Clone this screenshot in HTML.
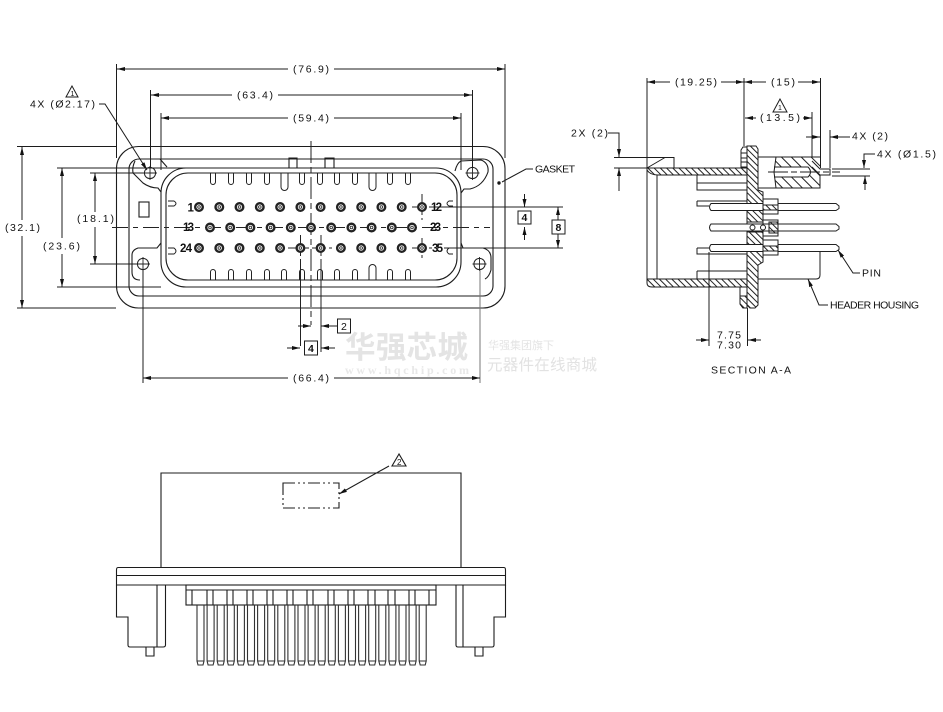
<!DOCTYPE html>
<html><head><meta charset="utf-8"><style>
html,body{margin:0;padding:0;background:#fff}
svg{display:block}
text{font-family:"Liberation Sans","Noto Sans CJK SC",sans-serif;fill:#111}
.t{font-size:10.500px;dominant-baseline:middle}
.p{font-size:11.500px;font-weight:bold;dominant-baseline:middle}
</style></head><body>
<svg width="943" height="712" viewBox="0 0 943 712" xmlns="http://www.w3.org/2000/svg">
<defs>
<marker id="a" viewBox="0 0 8 6" refX="8" refY="3" markerWidth="8" markerHeight="6" markerUnits="userSpaceOnUse" orient="auto-start-reverse"><path d="M0,1 L8,3 L0,5Z" fill="#111"/></marker>
<pattern id="h" width="4.400" height="4.400" patternUnits="userSpaceOnUse" patternTransform="rotate(-45)"><rect width="4.400" height="4.400" fill="#fff"/><rect width="1" height="4.400" fill="#222"/></pattern>
<pattern id="h2" width="7" height="7" patternUnits="userSpaceOnUse" patternTransform="rotate(-45)"><rect width="7" height="7" fill="#fff"/><rect width="1" height="7" fill="#222"/></pattern>
<g id="pin"><circle r="3.800" fill="#fff" stroke="#222" stroke-width="2.400"/><circle r="1.300" fill="#fff" stroke="#333" stroke-width=".9"/></g>
<path id="lp" d="M0,0V56L1,60H6L7,56V0M0,56H7" fill="none" stroke="#333" stroke-width="1.100"/>
<g id="hole"><circle r="5.600" fill="#fff" stroke="#222" stroke-width="1"/><path d="M-7,0H7M0,-7V7" stroke="#222" stroke-width=".9"/></g>
<path id="sp" d="M711,0H836L839,2.500V5L836,7H711Q708,3.500 711,0Z" fill="#fff" stroke="#222"/>
</defs>

<!-- watermark -->
<text x="345" y="358" font-size="30.500" font-weight="bold" style="fill:#e4e4e4" textLength="123">华强芯城</text>
<text x="345" y="374" font-size="12" font-weight="bold" style="fill:#e8e8e8;font-family:'Liberation Serif',serif" textLength="124">www.hqchip.com</text>
<text x="488" y="349" font-size="11" style="fill:#e4e4e4" textLength="66">华强集团旗下</text>
<text x="487" y="370" font-size="15.500" style="fill:#e2e2e2" textLength="110">元器件在线商城</text>

<!-- FRONT VIEW -->
<g fill="none" stroke="#1c1c1c" stroke-width="1.100">
<rect x="116.500" y="146.500" width="388.500" height="161.500" rx="22"/>
<rect x="129" y="159" width="364" height="137" rx="10"/>
<path d="M135,161Q132,167 133,173L143,183Q150,188 158,188L161,192"/>
<path d="M160,159L167,167"/>
<path d="M455,171Q457,163 461,161L481,160Q489,163 488,172Q483,186 470,189L464,189L461,193"/>
<path d="M161,243L157,248H138Q132,250 132,255V272Q132,280 140,280"/>
<path d="M461,243L463,248H483Q491,250 491,258V270Q489,277 485,279"/>
<rect x="161" y="168" width="300" height="119" rx="25" fill="#fff"/>
<rect x="166" y="173" width="291" height="107" rx="22" fill="#fff"/>
<path d="M289,168V158H297V168M325,168V158H334V168"/>
<rect x="139" y="202" width="10" height="15"/>
<path d="M168,201H174Q178,203.500 174,206H168M453,201H449Q445,203.500 449,206H453M168,248H174Q178,251 174,254H168M453,248H449Q445,251 449,254H453" stroke-width=".9"/>
</g>
<g fill="none" stroke="#222" stroke-width="1">
<path d="M210.500,173V182a2.500,2.500 0 0 0 5,0V173M228.500,173V182a2.500,2.500 0 0 0 5,0V173M246.500,173V182a2.500,2.500 0 0 0 5,0V173M264.500,173V182a2.500,2.500 0 0 0 5,0V173M281,173V187a3.300,3.300 0 0 0 7,0V173M299.500,173V182a2.500,2.500 0 0 0 5,0V173M317.500,173V182a2.500,2.500 0 0 0 5,0V173M334.500,173V182a2.500,2.500 0 0 0 5,0V173M352.500,173V182a2.500,2.500 0 0 0 5,0V173M369,173V187a3.300,3.300 0 0 0 7,0V173M387.500,173V182a2.500,2.500 0 0 0 5,0V173M405.500,173V182a2.500,2.500 0 0 0 5,0V173"/>
<path d="M210.500,280V272a2.500,2.500 0 0 1 5,0V280M228.500,280V272a2.500,2.500 0 0 1 5,0V280M246.500,280V272a2.500,2.500 0 0 1 5,0V280M264.500,280V272a2.500,2.500 0 0 1 5,0V280M281.500,280V272a2.500,2.500 0 0 1 5,0V280M299.500,280V272a2.500,2.500 0 0 1 5,0V280M317.500,280V272a2.500,2.500 0 0 1 5,0V280M334.500,280V272a2.500,2.500 0 0 1 5,0V280M352.500,280V272a2.500,2.500 0 0 1 5,0V280M369,280V268a3.500,3.500 0 0 1 7,0V280M387.500,280V272a2.500,2.500 0 0 1 5,0V280M405.500,280V272a2.500,2.500 0 0 1 5,0V280"/>
</g>
<path d="M112,227.500H490" fill="none" stroke="#222" stroke-width="1" stroke-dasharray="16 5 5 5"/>
<path d="M311,141V325" fill="none" stroke="#222" stroke-width="1" stroke-dasharray="22 4 6 4"/>
<path d="M422,194V220M412,207H432M422,238V258M412,248H432M300.500,235V262M321,235V262M288,248H332" stroke="#222" stroke-width="1" stroke-dasharray="14 3 4 3" fill="none"/>
<path d="M300.500,262V346M321,262V352M429,207H563M444,248H563" stroke="#222" stroke-width="1" fill="none"/>
<use href="#pin" x="199" y="207"/><use href="#pin" x="219.300" y="207"/><use href="#pin" x="239.500" y="207"/><use href="#pin" x="259.800" y="207"/><use href="#pin" x="280.100" y="207"/><use href="#pin" x="300.400" y="207"/><use href="#pin" x="320.600" y="207"/><use href="#pin" x="340.900" y="207"/><use href="#pin" x="361.200" y="207"/><use href="#pin" x="381.400" y="207"/><use href="#pin" x="401.700" y="207"/><use href="#pin" x="422" y="207"/>
<use href="#pin" x="210" y="227.500"/><use href="#pin" x="230.200" y="227.500"/><use href="#pin" x="250.400" y="227.500"/><use href="#pin" x="270.600" y="227.500"/><use href="#pin" x="290.800" y="227.500"/><use href="#pin" x="311" y="227.500"/><use href="#pin" x="331.200" y="227.500"/><use href="#pin" x="351.400" y="227.500"/><use href="#pin" x="371.600" y="227.500"/><use href="#pin" x="391.800" y="227.500"/><use href="#pin" x="412" y="227.500"/>
<use href="#pin" x="199" y="248"/><use href="#pin" x="219.300" y="248"/><use href="#pin" x="239.500" y="248"/><use href="#pin" x="259.800" y="248"/><use href="#pin" x="280.100" y="248"/><use href="#pin" x="300.400" y="248"/><use href="#pin" x="320.600" y="248"/><use href="#pin" x="340.900" y="248"/><use href="#pin" x="361.200" y="248"/><use href="#pin" x="381.400" y="248"/><use href="#pin" x="401.700" y="248"/><use href="#pin" x="422" y="248"/>
<text class="p" x="187.500" y="208.500" textLength="5">1</text>
<text class="p" x="183" y="228" textLength="11">13</text>
<text class="p" x="180" y="249" textLength="12">24</text>
<text class="p" x="431" y="208" textLength="11">12</text>
<text class="p" x="430" y="228" textLength="11">23</text>
<text class="p" x="432" y="249" textLength="11">35</text>
<use href="#hole" x="150" y="173"/><use href="#hole" x="472.500" y="173"/><use href="#hole" x="143" y="264"/><use href="#hole" x="479.500" y="264"/>

<!-- front dims -->
<g fill="none" stroke="#1c1c1c" stroke-width="1">
<path d="M116.500,64V158M505,64V158M150.500,90V168M472.500,90V168M161,113V170M461,113V170"/>
<path d="M17,146.500H116M57,168H192M90,173H143M90,264H137M57,287H161M17,308H116"/>
<path d="M143,270V383"/>
<path d="M480,270V383" stroke="#777"/>
<path d="M117,69H288" marker-start="url(#a)"/><path d="M334,69H505" marker-end="url(#a)"/>
<path d="M151,95H232" marker-start="url(#a)"/><path d="M278,95H472" marker-end="url(#a)"/>
<path d="M161,118H288" marker-start="url(#a)"/><path d="M334,118H461" marker-end="url(#a)"/>
<path d="M22,147V220" marker-start="url(#a)"/><path d="M22,236V308" marker-end="url(#a)"/>
<path d="M62,168V238" marker-start="url(#a)"/><path d="M62,254V287" marker-end="url(#a)"/>
<path d="M95,173V212" marker-start="url(#a)"/><path d="M95,227V264" marker-end="url(#a)"/>
<path d="M143,378H288" marker-start="url(#a)"/><path d="M334,378H480" marker-end="url(#a)"/>
<path d="M99,104H105L147,170" marker-end="url(#a)"/>
<path d="M533,169H526L502,182"/><circle cx="499" cy="183" r="1.200" fill="#111"/>
<path d="M524.500,194V207" marker-end="url(#a)"/><path d="M524.500,240V227" marker-end="url(#a)"/>
<path d="M558,220V207" marker-end="url(#a)"/><path d="M558,234V248" marker-end="url(#a)"/>
<path d="M298,326H311" marker-end="url(#a)"/><path d="M337,326H321" marker-end="url(#a)"/>
<path d="M287,348H300" marker-end="url(#a)"/><path d="M335,348H321" marker-end="url(#a)"/>
<rect x="518" y="211" width="13" height="13" fill="#fff"/><rect x="552" y="220" width="13" height="14" fill="#fff"/>
<rect x="337.500" y="319" width="13" height="14" fill="#fff"/><rect x="304.500" y="341" width="13" height="14" fill="#fff"/>
<path d="M72,86L66,97H78Z"/>
</g>
<text class="t" x="293" y="69.500" textLength="36">(76.9)</text>
<text class="t" x="237" y="95.500" textLength="36">(63.4)</text>
<text class="t" x="293" y="118.500" textLength="36">(59.4)</text>
<text class="t" x="5" y="228" textLength="35">(32.1)</text>
<text class="t" x="43" y="246.500" textLength="37">(23.6)</text>
<text class="t" x="77" y="219" textLength="37">(18.1)</text>
<text class="t" x="30" y="104.500" textLength="65">4X (Ø2.17)</text>
<text class="t" x="535" y="169.500" textLength="40">GASKET</text>
<text class="t" x="293" y="378.500" textLength="36">(66.4)</text>
<text x="521.500" y="221" font-size="10.500" font-weight="bold">4</text>
<text x="555.500" y="231" font-size="10.500" font-weight="bold">8</text>
<text x="341" y="330" font-size="10.500">2</text>
<text x="308" y="352" font-size="10.500" font-weight="bold">4</text>
<text x="70.500" y="96" font-size="7">1</text>

<!-- SECTION VIEW -->
<g stroke="#1c1c1c" stroke-width="1" fill="none">
<path d="M647,78V280M744,78V146M820.500,78V168M812,112V167M830,130V168"/>
<path d="M614,157.500H674V168M614,168H647M647,168L665,157.500"/>
<path d="M657,175V279"/>
<path d="M647,168H747V175H658Q650,175 647,170Z" fill="url(#h)"/>
<path d="M647,279H747V287H652Q647,287 647,283Z" fill="url(#h)"/>
<path d="M697,175V190H747M697,183H747"/>
<path d="M697,271V279M697,271H747"/>
<path d="M747,146H756L758,149V190L763,192V222H747Z" fill="url(#h)"/>
<path d="M747,232H763V262L758,265V305L755,308H750L747,305Z" fill="url(#h)"/>
<path d="M747,222V232"/>
<path d="M747,147H743L741,150V167H747M747,287H740V304L743,308H747"/>
<path d="M741,153H747M741,158H747M741,162H747"/>
<path d="M740,296H747V308H743L740,304Z" fill="url(#h)"/>
<!-- rear header -->
<path d="M776,157L774,172L776,188H820V157Z" fill="url(#h2)" stroke="none"/>
<path d="M774,167H808Q813,172 808,177H774Z" fill="#fff" stroke="none"/>
<path d="M758,157H820M758,188H820V175M776,157L774,172L776,188M774,167H808Q813,172 808,177H774"/>
<path d="M812,167L820,175H830V169H820L812,161"/>
<path d="M768,172H840" stroke-dasharray="20 3 6 3"/>
<!-- lower header -->
<path d="M758,279H816Q820,279 820,275V251"/>
</g>
<use href="#sp" y="203.500"/><use href="#sp" y="224"/><use href="#sp" y="244.500"/>
<g stroke="#1c1c1c" stroke-width="1">
<path d="M697,201H747M697,201V206H709M697,248H709M697,248V254H747" fill="none"/>
<path d="M763,199H778V214H763Z" fill="#fff"/>
<rect x="763" y="205" width="15" height="5" fill="url(#h)"/>
<path d="M763,220H778V236H763Z" fill="#fff"/>
<rect x="769" y="222" width="9" height="11" fill="url(#h)"/>
<path d="M763,240H778V255H763Z" fill="#fff"/>
<rect x="763" y="246" width="15" height="5" fill="url(#h)"/>
<path d="M711,203.500H763M711,210.500H763M711,224H778M711,231H778M711,244.500H763M711,251.500H763" fill="none"/>
<circle cx="752.500" cy="227.500" r="2.500" fill="#fff"/><circle cx="763" cy="227.500" r="2.500" fill="#fff"/>
</g>
<g stroke="#1c1c1c" stroke-width="1" fill="none">
<path d="M709,252V346M747.500,308V346"/>
<path d="M696,340H709" marker-end="url(#a)"/><path d="M761,340H748" marker-end="url(#a)"/>
<path d="M647,82H670" marker-start="url(#a)"/><path d="M721,82H744" marker-end="url(#a)"/>
<path d="M744,82H766" marker-start="url(#a)"/><path d="M798,82H820" marker-end="url(#a)"/>
<path d="M745,118H756" marker-start="url(#a)"/><path d="M803,118H812" marker-end="url(#a)"/>
<path d="M806,137H820" marker-end="url(#a)"/>
<path d="M850,137H830" marker-end="url(#a)"/>
<path d="M608,133H619V157" marker-end="url(#a)"/>
<path d="M619,191V168" marker-end="url(#a)"/>
<path d="M875,154H864V168" marker-end="url(#a)"/>
<path d="M865,190V176" marker-end="url(#a)"/>
<path d="M832,169H870M832,176H870"/>
<path d="M860,273H853L838,250" marker-end="url(#a)"/>
<path d="M828,305H819L808,279" marker-end="url(#a)"/>
<path d="M780,99L773,112H787Z"/>
</g>
<text class="t" x="675" y="82.500" textLength="42">(19.25)</text>
<text class="t" x="771" y="82.500" textLength="24">(15)</text>
<text class="t" x="760" y="118" textLength="40">(13.5)</text>
<text class="t" x="852" y="136.500" textLength="36">4X (2)</text>
<text class="t" x="877" y="154.500" textLength="59">4X (Ø1.5)</text>
<text class="t" x="571" y="133.500" textLength="37">2X (2)</text>
<text class="t" x="862" y="273.500" textLength="19">PIN</text>
<text class="t" x="830" y="305.500" textLength="89">HEADER HOUSING</text>
<text class="t" x="717" y="335.500" textLength="24">7.75</text>
<text class="t" x="717" y="345.500" textLength="24">7.30</text>
<text class="t" x="711" y="370.500" textLength="80">SECTION  A-A</text>
<text x="778" y="110" font-size="7">1</text>

<!-- BOTTOM VIEW -->
<g fill="none" stroke="#1c1c1c" stroke-width="1.100">
<path d="M161,568V473H461V568"/>
<path d="M118,567.500H504Q505.500,567.500 505.500,570V585H116.500V570Q116.500,567.500 118,567.500ZM116.500,575.500H505.500"/>
<path d="M116.500,585V617H128V645Q128,647 130,647H163Q165.500,647 165.500,645V585M157,585V647"/>
<path d="M146,647V656H154V647"/>
<path d="M505.500,585V617H494V645Q494,647 492,647H458Q456,647 456,645V585M463,585V647"/>
<path d="M475,647V656H483V647"/>
<rect x="186" y="585" width="250" height="20"/>
<path d="M186,590H436"/>
<path d="M192,590V605M207,590V605M213,590V605M227,590V605M233,590V605M247,590V605M253,590V605M267,590V605M273,590V605M287,590V605M293,590V605M307,590V605M313,590V605M328,590V605M334,590V605M348,590V605M354,590V605M368,590V605M375,590V605M388,590V605M395,590V605M409,590V605M415,590V605M429,590V605"/>
<path d="M283,483H339V508H283Z" stroke-dasharray="12 3 2 3 2 3"/>
<path d="M389,466L339,494" marker-end="url(#a)"/>
<path d="M399,454L392,466H406Z"/>
</g>
<text x="397" y="465" font-size="8">2</text>
<use href="#lp" x="197" y="605"/><use href="#lp" x="207.100" y="605"/><use href="#lp" x="217.200" y="605"/><use href="#lp" x="227.300" y="605"/><use href="#lp" x="237.400" y="605"/><use href="#lp" x="247.500" y="605"/><use href="#lp" x="257.600" y="605"/><use href="#lp" x="267.700" y="605"/><use href="#lp" x="277.800" y="605"/><use href="#lp" x="287.900" y="605"/><use href="#lp" x="298" y="605"/><use href="#lp" x="308.100" y="605"/><use href="#lp" x="318.200" y="605"/><use href="#lp" x="328.300" y="605"/><use href="#lp" x="338.400" y="605"/><use href="#lp" x="348.500" y="605"/><use href="#lp" x="358.600" y="605"/><use href="#lp" x="368.700" y="605"/><use href="#lp" x="378.800" y="605"/><use href="#lp" x="388.900" y="605"/><use href="#lp" x="399" y="605"/><use href="#lp" x="409.100" y="605"/><use href="#lp" x="419.200" y="605"/>
</svg>
</body></html>
